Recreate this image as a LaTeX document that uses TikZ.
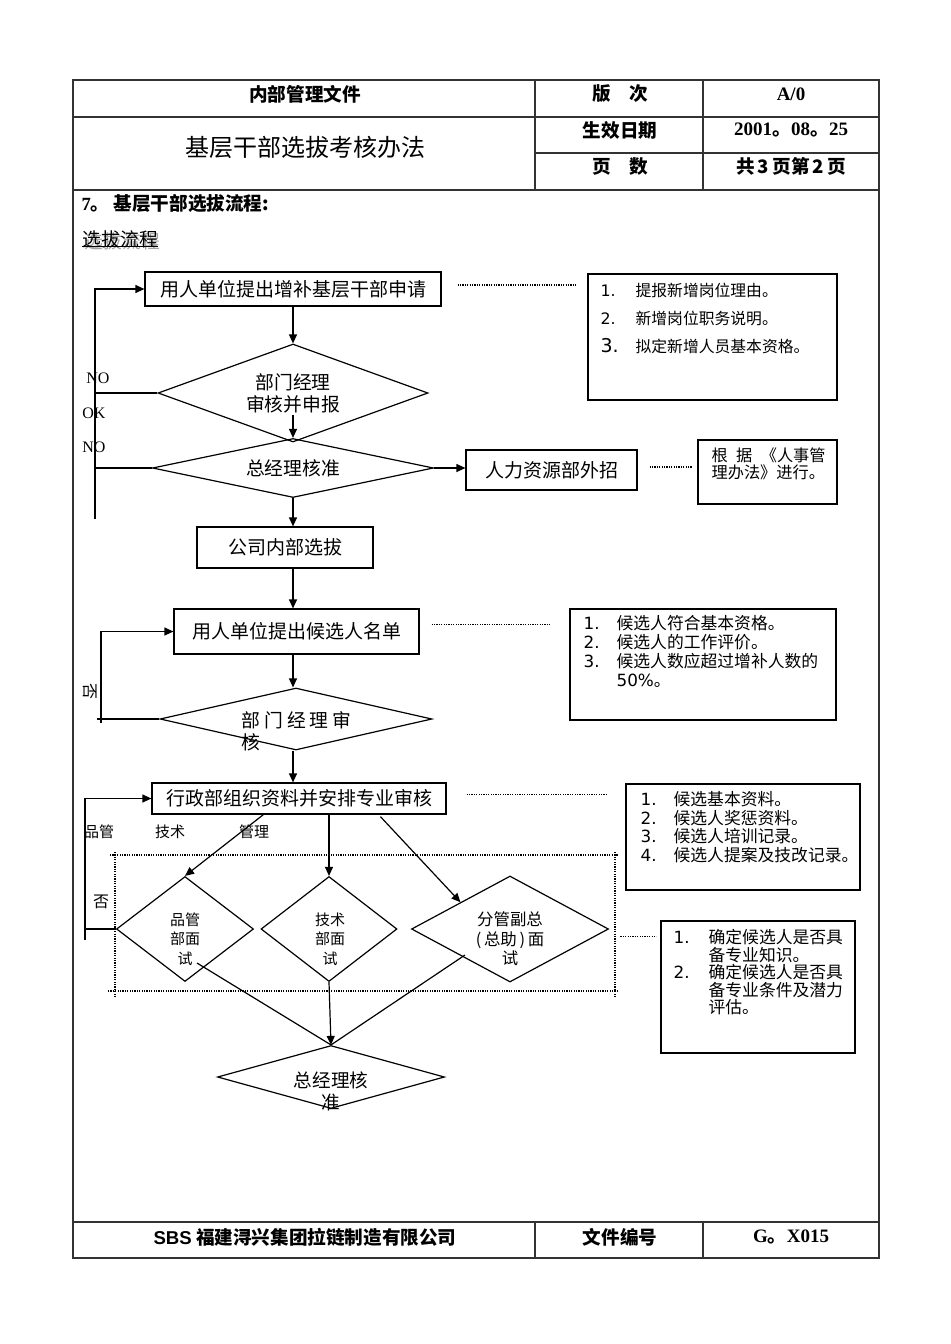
\documentclass[tikz,border=0pt]{standalone}
\usepackage{fontspec}
\setmainfont{Liberation Serif}
\newfontfamily\cjk{Noto Sans CJK SC}
\newfontfamily\numf{DejaVu Sans}
\usetikzlibrary{arrows.meta, positioning, calc, shapes.geometric}
\newcommand\itm[3]{\makebox[#1][l]{\numf #2}#3}

\begin{document}
\begin{tikzpicture}[x=0.5pt, y=-0.5pt, line width=0.6pt]
		\tikzset{
			formline/.style={draw=black!80, line width=0.6pt},
			head/.style={inner sep=0pt, font=\cjk\bfseries\fontsize{9.3}{11}\selectfont},
			box/.style={draw, rectangle, inner sep=0pt, font=\cjk\fontsize{9.5}{11.4}\selectfont},
			dec/.style={draw, diamond, inner sep=0pt, aspect=1, font=\cjk\fontsize{9.4}{11}\selectfont, align=center},
			dtxt/.style={inner sep=0pt, align=center, font=\cjk\fontsize{7.5}{9.75}\selectfont},
			note/.style={draw, rectangle, inner sep=0pt},
			memo/.style={anchor=north west, inner sep=0pt, align=left},
			tag/.style={inner sep=0pt, font=\cjk\fontsize{7.5}{9}\selectfont},
			yesno/.style={inner sep=0pt, font=\fontsize{8}{9}\selectfont},
			arr/.style={-{Triangle[length=4.5pt, width=4pt]}},
			dots/.style={line width=0.6pt, dash pattern=on 0.6pt off 0.6pt}
		}
		\useasboundingbox (0,0) rectangle (950,1344);

		% form frame
		\draw[formline] (73,80) rectangle (879,1258);
		\draw[formline] (73,117) -- (879,117);
		\draw[formline] (535,153) -- (879,153);
		\draw[formline] (73,190) -- (879,190);
		\draw[formline] (535,80) -- (535,190);
		\draw[formline] (703,80) -- (703,190);
		\draw[formline] (73,1222) -- (879,1222);
		\draw[formline] (535,1222) -- (535,1258);
		\draw[formline] (703,1222) -- (703,1258);

		% header
		\node[head] (kind) at (305,94) {内部管理文件};
		\node[head] (vlab) at (620,94) {版　次};
		\node[head, font=\bfseries\fontsize{9.5}{11}\selectfont] (ver) at (791,94) {A/0};
		\node[head, font=\cjk\fontsize{12}{14}\selectfont] (title) at (305,147) {基层干部选拔考核办法};
		\node[head] (dlab) at (620,130) {生效日期};
		\node[head, font=\bfseries\fontsize{9.5}{11}\selectfont] (date) at (791,130) {2001{\cjk 。}08{\cjk 。}25};
		\node[head] (plab) at (620,166) {页　数};
		\node[head] (pages) at (791,166) {共\,3\,页第\,2\,页};
		\node[head, anchor=west] (sect) at (81,203) {{\rmfamily 7}。 基层干部选拔流程:};
		\node[head, anchor=west, font=\cjk\fontsize{9.4}{11}\selectfont, text=black!35] (subsh) at (84,241) {选拔流程};
		\node[head, anchor=west, font=\cjk\fontsize{9.4}{11}\selectfont] (sub) at (82,239) {选拔流程};
		\draw (sub.south west) ++(0,-2) -- ($(sub.south east)+(0,-2)$);

		% footer
		\node[head] (corp) at (305,1237) {{\sffamily\fontspec{Liberation Sans}\bfseries SBS} 福建浔兴集团拉链制造有限公司};
		\node[head] (nlab) at (620,1237) {文件编号};
		\node[head, font=\bfseries\fontsize{9.5}{11}\selectfont] (docno) at (791,1237) {G{\cjk 。}X015};

		% flow
		\node[box, minimum width=148pt, minimum height=17pt] (apply) at (293,289) {用人单位提出增补基层干部申请};
		\node[dec, aspect=2.75, minimum width=135pt, minimum height=49pt] (mgr) at (293,393) {部门经理\\审核并申报};
		\node[dec, aspect=4.8, minimum width=140.5pt, minimum height=29.5pt] (gm) at (293,468) {总经理核准};
		\node[box, minimum width=85.5pt, minimum height=20pt] (hr) at (551.5,470) {人力资源部外招};
		\node[box, minimum width=88pt, minimum height=20.5pt] (inner) at (285,547.5) {公司内部选拔};
		\node[box, minimum width=122.5pt, minimum height=22.5pt] (cand) at (296.5,631.5) {用人单位提出候选人名单};
		\node[dec, minimum width=136pt, minimum height=31pt] (mgr2) at (296,719) {};
		\node[memo, font=\cjk\fontsize{9.4}{11}\selectfont] (mgr2t) at (241,711) {部\hspace{2pt}门\hspace{2pt}经\hspace{2pt}理\hspace{2pt}审\\核};
		\node[box, minimum width=147pt, minimum height=15.5pt] (admin) at (299,798.5) {行政部组织资料并安排专业审核};
		\node[dec, minimum width=68.5pt, minimum height=52.5pt] (qc) at (185,929) {};
		\node[dec, minimum width=68pt, minimum height=52.5pt] (tech) at (329,929) {};
		\node[dec, minimum width=98.5pt, minimum height=53pt] (vp) at (510,929) {};
		\node[dec, minimum width=113.5pt, minimum height=31.5pt] (gm2) at (331,1077) {};
		\node[dtxt] (qct) at (185,939) {品管\\部面\\试};
		\node[dtxt] (techt) at (330,939) {技术\\部面\\试};
		\node[dtxt, font=\cjk\fontsize{8.2}{9.75}\selectfont] (vpt) at (510,939) {分管副总\\(\,总助\,)\,面\\试};
		\node[dtxt, font=\cjk\fontsize{9.3}{11}\selectfont] (gm2t) at (331,1091) {总经理核\\准};

		% notes
		\node[note, minimum width=124.5pt, minimum height=63pt] (n1) at (712.5,337) {};
		\node[memo, font=\cjk\fontsize{7.9}{14}\selectfont] (n1t) at (600,283) {\itm{17.5pt}{1.}{提报新增岗位理由。}\\\itm{17.5pt}{2.}{新增岗位职务说明。}\\\itm{17.5pt}{\fontsize{9.5}{14}\selectfont 3.}{拟定新增人员基本资格。}};
		\node[note, minimum width=69.5pt, minimum height=32pt] (hrnote) at (767.5,472) {};
		\node[memo, font=\cjk\fontsize{8.1}{8.5}\selectfont] (hrnotet) at (711,447) {\makebox[57pt][l]{根\hfill 据\hfill 《人事管}\\理办法》进行。};
		\node[note, minimum width=133pt, minimum height=55.5pt] (n2) at (703,664.5) {};
		\node[memo, font=\cjk\fontsize{8.4}{9.5}\selectfont] (n2t) at (583,615) {\itm{16.5pt}{1.}{候选人符合基本资格。}\\\itm{16.5pt}{2.}{候选人的工作评价。}\\\itm{16.5pt}{3.}{候选人数应超过增补人数的}\\\hspace*{16.5pt}{\numf 50\%}。};
		\node[note, minimum width=117pt, minimum height=53pt] (n3) at (743,837) {};
		\node[memo, font=\cjk\fontsize{8.4}{9.3}\selectfont] (n3t) at (640,791) {\itm{16.5pt}{1.}{候选基本资料。}\\\itm{16.5pt}{2.}{候选人奖惩资料。}\\\itm{16.5pt}{3.}{候选人培训记录。}\\\itm{16.5pt}{4.}{候选人提案及技改记录。}};
		\node[note, minimum width=97pt, minimum height=66pt] (n4) at (758,987) {};
		\node[memo, font=\cjk\fontsize{8.4}{8.7}\selectfont] (n4t) at (673,929) {\itm{17.5pt}{1.}{确定候选人是否具}\\\hspace*{17.5pt}备专业知识。\\\itm{17.5pt}{2.}{确定候选人是否具}\\\hspace*{17.5pt}备专业条件及潜力\\\hspace*{17.5pt}评估。};

		% side labels
		\node[yesno] (no1) at (98,378) {NO};
		\node[yesno] (ok1) at (94,413) {OK};
		\node[yesno] (no2) at (94,447) {NO};
		\node[tag, font=\cjk\fontsize{8}{9}\selectfont, rotate=-90] (fou1) at (90,691) {否};
		\node[tag, font=\cjk\fontsize{8}{9}\selectfont] (fou2) at (101,902) {否};
		\node[tag] (lqc) at (99,832) {品管};
		\node[tag] (ltech) at (170,832) {技术};
		\node[tag] (lvp) at (254,832) {管理};

		% main line
		\draw[arr] (apply) -- (mgr);
		\draw[arr] ($(mgr.center)+(0,22)$) -- (gm.north);
		\draw[arr] (gm.east) -- (gm.east -| hr.west);
		\draw[arr] (gm.south) -- (inner.north -| gm.south);
		\draw[arr] (inner.south -| gm.south) -- (cand.north -| gm.south);
		\draw[arr] (cand.south -| gm.south) -- (mgr2.north -| gm.south);
		\draw[arr] (mgr2.south -| gm.south) -- (admin.north -| gm.south);
		\draw[arr] ($(admin.south west)+(112,0)$) -- (qc.north);
		\draw[arr] (admin.south -| tech.north) -- (tech.north);
		\draw[arr] ($(admin.south west)+(229,2)$) -- (vp.north west);
		\draw ($(qc.center)+(12,34)$) -- (gm2.north);
		\draw[arr] (tech.south) -- (gm2.north);
		\draw ($(vp.center)+(-45,26)$) -- (gm2.north);

		% loops back
		\coordinate (l1) at (95,519);
		\coordinate (l2) at (101,723);
		\coordinate (l3) at (85,940);
		\draw[arr] (l1) |- (apply.west);
		\draw (mgr.west) -- (mgr.west -| l1);
		\draw (gm.west) -- (gm.west -| l1);
		\draw[arr] (l2) |- (cand.west);
		\draw (mgr2.west) -- ($(mgr2.west -| l2)+(-4,0)$);
		\draw[arr] (l3) |- (admin.west);
		\draw (qc.west) -- (qc.west -| l3);

		% dotted links
		\draw[dots] ($(apply.east)+(16,-4)$) -- ($(n1.west |- apply.east)+(-12,-4)$);
		\draw[dots] ($(hr.east)+(12,-3)$) -- ($(hrnote.west |- hr.east)+(-5,-3)$);
		\draw[dots] ($(cand.east)+(12,-7)$) -- ($(n2.west |- cand.east)+(-18,-7)$);
		\draw[dots] ($(admin.east)+(20,-4)$) -- ($(n3.west |- admin.east)+(-18,-4)$);
		\draw[dots] ($(n4.north west)+(-40,16)$) -- ($(n4.north west)+(-4,16)$);

		% dotted frame round the interviews
		\draw[dots] (110,855) -- (618,855);
		\draw[dots] (108,991) -- (618,991);
		\draw[dots] (115,852) -- (115,997);
		\draw[dots] (615,852) -- (615,997);
	\end{tikzpicture}
\end{document}
